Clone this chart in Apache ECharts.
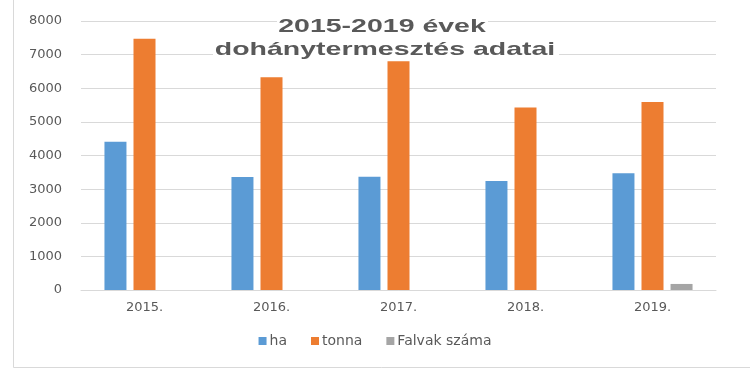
<!DOCTYPE html>
<html>
<head>
<meta charset="utf-8">
<script src="https://cdn.jsdelivr.net/npm/echarts@6/dist/echarts.min.js"></script>
<style>html,body{margin:0;padding:0;background:#fff;}#c{width:750px;height:375px;}</style>
</head>
<body>
<div id="c"></div>
<script>
var categories = ['2015.', '2016.', '2017.', '2018.', '2019.'];
var haValues = [4410, 3360, 3370, 3240, 3470];
var tonnaValues = [7470, 6330, 6800, 5430, 5590];
var falvakValues = [null, null, null, null, 180];
var yTicks = [0, 1000, 2000, 3000, 4000, 5000, 6000, 7000, 8000];
var titleLines = ['2015-2019 évek', 'dohánytermesztés adatai'];

var chart = echarts.init(document.getElementById('c'));
var labelFont = 'DejaVu Sans';
var titleFont = 'bold 19px "Liberation Sans", Arial, sans-serif';
chart.setOption({
  animation: false,
  backgroundColor: '#fff',
  grid: { left: 81, right: 34, top: 21, bottom: 85 },
  legend: {
    data: ['ha', 'tonna', 'Falvak száma'],
    bottom: 22,
    left: 'center',
    icon: 'rect',
    itemWidth: 8,
    itemHeight: 8,
    itemGap: 24,
    textStyle: { fontFamily: labelFont, fontSize: 14, color: '#595959', padding: [0, 0, 0, -2] }
  },
  xAxis: {
    type: 'category',
    data: categories,
    axisLine: { lineStyle: { color: '#d9d9d9' } },
    axisTick: { show: false },
    axisLabel: { fontFamily: labelFont, fontSize: 13, color: '#595959', margin: 11 }
  },
  yAxis: {
    type: 'value',
    min: yTicks[0],
    max: yTicks[yTicks.length - 1],
    interval: 1000,
    axisLine: { show: false },
    axisTick: { show: false },
    splitLine: { lineStyle: { color: '#d9d9d9' } },
    axisLabel: { fontFamily: labelFont, fontSize: 13, color: '#595959', margin: 19, formatter: function (v) { return String(v); } }
  },
  series: [
    { name: 'ha', type: 'bar', data: haValues, barWidth: 22, barGap: '32%', itemStyle: { color: '#5B9BD5' } },
    { name: 'tonna', type: 'bar', data: tonnaValues, barWidth: 22, barGap: '32%', itemStyle: { color: '#ED7D31' } },
    { name: 'Falvak száma', type: 'bar', data: falvakValues, barWidth: 22, barGap: '32%', itemStyle: { color: '#A5A5A5' } }
  ],
  graphic: [
    { type: 'line', shape: { x1: 13.5, y1: 0, x2: 13.5, y2: 367.5 }, style: { stroke: '#d9d9d9', lineWidth: 1 }, silent: true },
    { type: 'line', shape: { x1: 13.5, y1: 367.5, x2: 750, y2: 367.5 }, style: { stroke: '#d9d9d9', lineWidth: 1 }, silent: true },
    { type: 'rect', shape: { x: 277, y: 15, width: 211, height: 24 }, style: { fill: '#fff' }, silent: true, z: 100 },
    { type: 'rect', shape: { x: 213, y: 38, width: 346, height: 22 }, style: { fill: '#fff' }, silent: true, z: 100 },
    { type: 'group', x: 382, y: 27, scaleX: 1.5, z: 101, children: [
      { type: 'text', z: 101, style: { text: titleLines[0], x: 0, y: 0, textAlign: 'center', textVerticalAlign: 'middle', font: titleFont, fill: '#595959', stroke: 'transparent', lineWidth: 0 } }
    ] },
    { type: 'group', x: 385, y: 50, scaleX: 1.5, z: 101, children: [
      { type: 'text', z: 101, style: { text: titleLines[1], x: 0, y: 0, textAlign: 'center', textVerticalAlign: 'middle', font: titleFont, fill: '#595959', stroke: 'transparent', lineWidth: 0 } }
    ] }
  ]
});
</script>
</body>
</html>
